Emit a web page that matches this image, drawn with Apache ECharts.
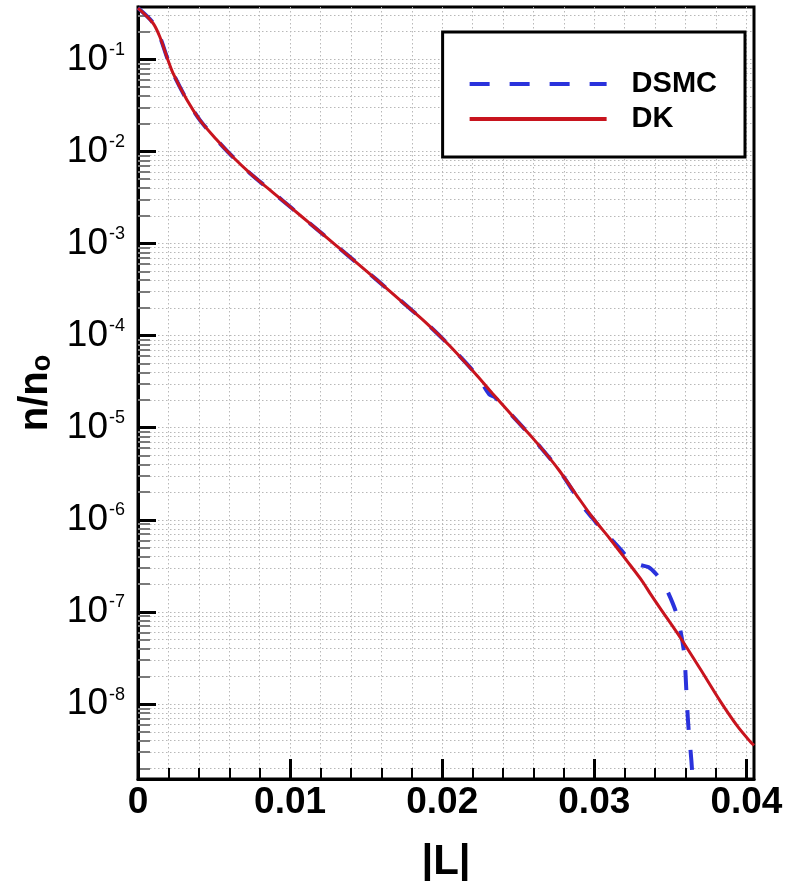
<!DOCTYPE html>
<html><head><meta charset="utf-8">
<script src="https://cdn.jsdelivr.net/npm/echarts@6/dist/echarts.min.js"></script>
<style>html,body{margin:0;padding:0;background:#fff}#c{width:789px;height:881px}</style>
</head><body><div id="c"></div>
<script>
// ---- data ----
const dkL = [0, 0.00098, 0.00144, 0.0019, 0.0023, 0.00322, 0.00407, 0.00519, 0.00624, 0.00736, 0.00847, 0.00952, 0.01064, 0.01176, 0.01392, 0.0157, 0.01721, 0.01898, 0.02049, 0.02227, 0.02332, 0.02489, 0.02594, 0.02706, 0.02772, 0.02883, 0.02989, 0.031, 0.03212, 0.03317, 0.03368, 0.03429, 0.03566, 0.03697, 0.03829, 0.03941, 0.04026, 0.0405];
const dkN = [0.36, 0.248, 0.175, 0.106, 0.071, 0.0361, 0.0219, 0.0133, 8.69e-3, 5.82e-3, 4.07e-3, 2.92e-3, 2.04e-3, 1.43e-3, 7.16e-4, 4.03e-4, 2.45e-4, 1.36e-4, 7.76e-5, 3.72e-5, 2.34e-5, 1.20e-5, 7.76e-6, 4.68e-6, 3.39e-6, 1.86e-6, 1.06e-6, 6.31e-7, 3.63e-7, 2.14e-7, 1.58e-7, 1.12e-7, 5.25e-8, 2.40e-8, 1.07e-8, 5.75e-9, 3.89e-9, 3.55e-9];

const dsmcL = [0, 0.00098, 0.00144, 0.0019, 0.0023, 0.00322, 0.00407, 0.00519, 0.00624, 0.00736, 0.00847, 0.00952, 0.01064, 0.01176, 0.01392, 0.0157, 0.01721, 0.01898, 0.02049, 0.02227, 0.0231, 0.02345, 0.02489, 0.02594, 0.02706, 0.02772, 0.02883, 0.0294, 0.02989, 0.0306, 0.03118, 0.03171, 0.03237, 0.03303, 0.03355, 0.03401, 0.03447, 0.03487, 0.03539, 0.03572, 0.03592, 0.03605, 0.03618, 0.03638, 0.03651];
const dsmcN = [0.36, 0.25, 0.176, 0.106, 0.071, 0.0361, 0.0219, 0.0133, 8.7e-3, 5.8e-3, 4.07e-3, 2.92e-3, 2.04e-3, 1.43e-3, 7.16e-4, 4.03e-4, 2.45e-4, 1.36e-4, 7.76e-5, 3.72e-5, 2.3e-5, 2.15e-5, 1.2e-5, 7.76e-6, 4.68e-6, 3.39e-6, 1.8e-6, 1.3e-6, 1.04e-6, 7.5e-7, 6.0e-7, 4.8e-7, 3.66e-7, 3.23e-7, 3.07e-7, 2.64e-7, 2.11e-7, 1.6e-7, 9.73e-8, 5.61e-8, 3.4e-8, 1.42e-8, 5.92e-9, 2.47e-9, 1.17e-9];

const seriesNames = ['DSMC', 'DK'];
const xMajorTicks = [0, 0.01, 0.02, 0.03, 0.04];
const xMinorTicks = [0.002, 0.004, 0.006, 0.008, 0.012, 0.014, 0.016, 0.018, 0.022, 0.024, 0.026, 0.028, 0.032, 0.034, 0.036, 0.038];
const yMajorTicks = [1e-8, 1e-7, 1e-6, 1e-5, 1e-4, 1e-3, 1e-2, 1e-1];
const yDecades = [1e-9, 1e-8, 1e-7, 1e-6, 1e-5, 1e-4, 1e-3, 1e-2, 1e-1];
const yMinorMult = [2, 3, 4, 5, 6, 7, 8, 9];
const X_MIN = 0, X_MAX = 0.0405;
const Y_MIN = 1.535e-9, Y_MAX = 0.37;

// ---- build ----
const yMinorTicks = [];
yDecades.forEach(d => yMinorMult.forEach(m => {
  const v = parseFloat((m * d).toPrecision(3));
  if (v >= Y_MIN && v <= Y_MAX) yMinorTicks.push(v);
}));
const zip = (a, b) => a.map((x, i) => [x, b[i]]);
const FONT = 'Liberation Sans';
const gridLine = { show: true, lineStyle: { color: '#b8b8b8', type: [1.5, 2.5], width: 1 } };

const chart = echarts.init(document.getElementById('c'), null, { renderer: 'canvas' });
chart.setOption({
  animation: false,
  backgroundColor: '#fff',
  grid: { left: 138, right: 35, top: 7, bottom: 102, containLabel: false, outerBoundsMode: 'none', show: true, borderColor: '#000', borderWidth: 3, backgroundColor: 'transparent' },
  legend: {
    data: seriesNames, orient: 'vertical', right: 44, top: 32,
    padding: [37, 28, 23, 25], itemWidth: 137, itemHeight: 20, itemGap: 5,
    borderColor: '#000', borderWidth: 3, backgroundColor: '#fff',
    itemStyle: { opacity: 0 },
    lineStyle: { width: 4 },
    textStyle: { fontFamily: FONT, fontWeight: 'bold', fontSize: 29, color: '#000', padding: [0, 0, 0, 20], lineHeight: 30 }
  },
  xAxis: [
    {
      type: 'value', min: X_MIN, max: X_MAX, position: 'bottom',
      axisLine: { show: true, onZero: false, lineStyle: { color: '#000', width: 3 } },
      axisTick: { show: true, inside: true, length: 20, customValues: xMajorTicks, lineStyle: { color: '#000', width: 3 } },
      axisLabel: { customValues: xMajorTicks, formatter: v => v === 0 ? '0' : v.toFixed(2), fontFamily: FONT, fontWeight: 'bold', fontSize: 37, color: '#000', margin: 5 },
      splitLine: gridLine,
      name: '|L|', nameLocation: 'middle', nameGap: 62,
      nameTextStyle: { fontFamily: FONT, fontWeight: 'bold', fontSize: 42, color: '#000' }
    },
    {
      type: 'value', min: X_MIN, max: X_MAX, position: 'bottom',
      axisLine: { show: false },
      axisTick: { show: true, inside: true, length: 11, customValues: xMinorTicks, lineStyle: { color: '#000', width: 2 } },
      axisLabel: { show: false },
      splitLine: gridLine
    }
  ],
  yAxis: [
    {
      type: 'log', logBase: 10, min: Y_MIN, max: Y_MAX, position: 'left',
      axisLine: { show: true, onZero: false, lineStyle: { color: '#000', width: 3 } },
      axisTick: { show: true, inside: true, length: 18, customValues: yMajorTicks, lineStyle: { color: '#000', width: 3 } },
      axisLabel: {
        customValues: yMajorTicks, margin: 13,
        formatter: v => '{n|10}{s|' + Math.round(Math.log10(v)) + '}',
        rich: {
          n: { fontFamily: FONT, fontSize: 37, lineHeight: 37, color: '#000', verticalAlign: 'top' },
          s: { fontFamily: FONT, fontSize: 18, lineHeight: 18, color: '#000', verticalAlign: 'top', padding: [0, 0, 2, 1] }
        }
      },
      splitLine: gridLine,
      name: '{a|n/n}{b|o}', nameLocation: 'middle', nameGap: 74, nameRotate: 90,
      nameTextStyle: {
        rich: {
          a: { fontFamily: FONT, fontWeight: 'bold', fontSize: 40, lineHeight: 40, color: '#000', verticalAlign: 'top' },
          b: { fontFamily: FONT, fontWeight: 'bold', fontSize: 27, lineHeight: 27, color: '#000', verticalAlign: 'bottom', padding: [18, 0, 0, 0] }
        }
      }
    },
    {
      type: 'log', logBase: 10, min: Y_MIN, max: Y_MAX, position: 'left',
      axisLine: { show: false },
      axisTick: { show: true, inside: true, length: 12, customValues: yMinorTicks, lineStyle: { color: '#7a7a7a', width: 2 } },
      axisLabel: { show: false },
      splitLine: gridLine
    }
  ],
  series: [
    {
      name: seriesNames[0], type: 'line', data: zip(dsmcL, dsmcN), xAxisIndex: 0, yAxisIndex: 0,
      symbol: 'none', showSymbol: false, smooth: 0.3, clip: true, z: 3,
      lineStyle: { color: '#2a32dc', width: 4, type: [20, 20] }, itemStyle: { color: '#2a32dc' }
    },
    {
      name: seriesNames[1], type: 'line', data: zip(dkL, dkN), xAxisIndex: 0, yAxisIndex: 0,
      symbol: 'none', showSymbol: false, smooth: 0.3, clip: true, z: 4,
      lineStyle: { color: '#c8141e', width: 3 }, itemStyle: { color: '#c8141e' }
    }
  ]
});
</script></body></html>
